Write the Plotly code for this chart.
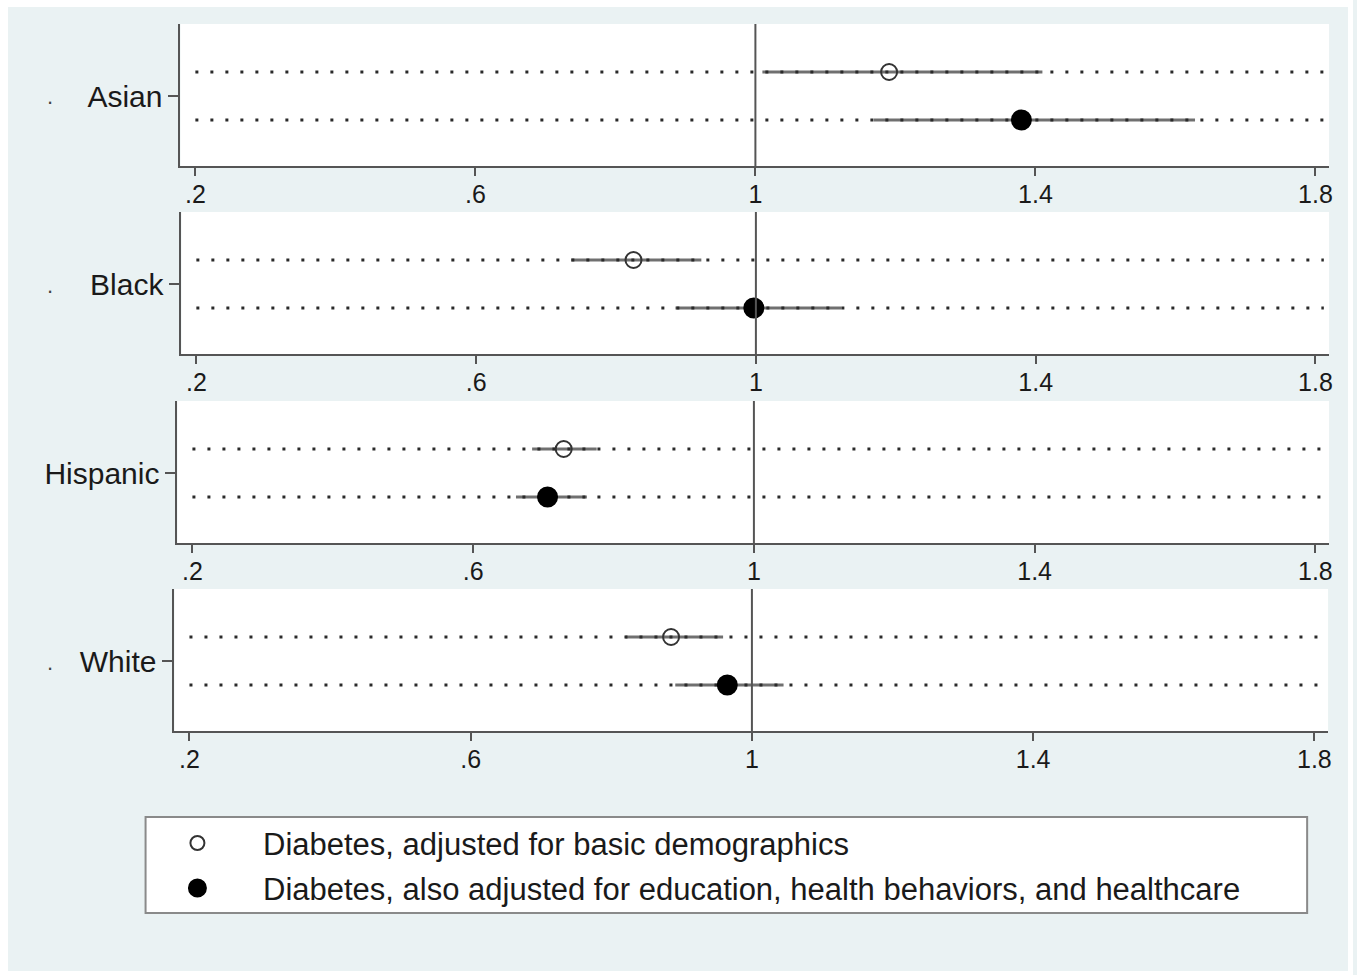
import plotly.graph_objects as go

# Odds ratios with 95% confidence intervals, by group
groups = ["Asian", "Black", "Hispanic", "White"]
basic_est = [1.191, 0.825, 0.729, 0.885]
basic_lo = [1.010, 0.736, 0.684, 0.820]
basic_hi = [1.410, 0.922, 0.776, 0.959]
full_est = [1.380, 0.997, 0.706, 0.965]
full_lo = [1.169, 0.885, 0.661, 0.891]
full_hi = [1.628, 1.122, 0.762, 1.045]

series_names = [
    "Diabetes, adjusted for basic demographics",
    "Diabetes, also adjusted for education, health behaviors, and healthcare",
]
tick_vals = [0.2, 0.6, 1.0, 1.4, 1.8]
tick_text = [".2", ".6", "1", "1.4", "1.8"]

W, H = 1357, 975
FONT = "Liberation Sans, Arial, sans-serif"
BG = "#eaf2f3"
AXIS = "#555555"


def px_x(v):
    return v / W


def px_y(v):
    return 1 - v / H


# panel boxes in pixels: (left, right, top, bottom)
panels = [
    (181, 1333, 24, 166),
    (182, 1333, 212, 354),
    (178, 1333, 401, 543),
    (175, 1332, 589, 731),
]
x_range = [0.1787, 1.8195]
y_range = [2.958, 0]

fig = go.Figure()
layout = dict(
    width=W, height=H,
    margin=dict(l=0, r=0, t=0, b=0),
    paper_bgcolor=BG, plot_bgcolor="white",
    showlegend=False,
    font=dict(family=FONT, color="#1a1a1a"),
)
shapes = []
annotations = []

for i, g in enumerate(groups):
    n = i + 1
    xa = "x" if n == 1 else f"x{n}"
    ya = "y" if n == 1 else f"y{n}"
    l, r, t, b = panels[i]
    layout["xaxis" if n == 1 else f"xaxis{n}"] = dict(
        domain=[px_x(l), px_x(r)], range=x_range, anchor=ya,
        showline=True, linecolor=AXIS, linewidth=2, mirror=False,
        showgrid=False, zeroline=False,
        ticks="outside", ticklen=8, tickwidth=2, tickcolor=AXIS,
        tickvals=tick_vals, ticktext=tick_text,
        tickfont=dict(size=25, family=FONT, color="#1a1a1a"),
        ticklabelstandoff=-3,
    )
    layout["yaxis" if n == 1 else f"yaxis{n}"] = dict(
        domain=[px_y(b), px_y(t)], range=y_range, anchor=xa,
        showline=True, linecolor=AXIS, linewidth=2, mirror=False,
        showgrid=False, zeroline=False,
        ticks="outside", ticklen=10, tickwidth=2, tickcolor=AXIS,
        tickvals=[1.5], ticktext=[g],
        tickfont=dict(size=30, family=FONT, color="#1a1a1a"),
    )

    rows = [
        (1, basic_est[i], basic_lo[i], basic_hi[i], "circle-open", 16, "#333333"),
        (2, full_est[i], full_lo[i], full_hi[i], "circle", 19, "#000000"),
    ]
    for yrow, est, lo, hi, sym, size, col in rows:
        # confidence interval
        fig.add_trace(go.Scatter(
            x=[lo, hi], y=[yrow, yrow], xaxis=xa, yaxis=ya, mode="lines",
            line=dict(color="#707070", width=3), hoverinfo="skip"))
        # dotted row guide
        fig.add_trace(go.Scatter(
            x=[0.2, 1.812], y=[yrow, yrow], xaxis=xa, yaxis=ya, mode="lines",
            line=dict(color="#2a2a2a", width=3, dash="3px,12px"), hoverinfo="skip"))
    # reference line at 1
    shapes.append(dict(type="line", xref=xa, yref=f"{ya} domain", x0=1, x1=1, y0=0, y1=1,
                       line=dict(color=AXIS, width=2), layer="above"))
    for yrow, est, lo, hi, sym, size, col in rows:
        fig.add_trace(go.Scatter(
            x=[est], y=[yrow], xaxis=xa, yaxis=ya, mode="markers",
            marker=dict(symbol=sym, size=size, color=col,
                        line=dict(color=col, width=2)),
            name=series_names[yrow - 1]))

    if g != "Hispanic":
        annotations.append(dict(
            text=".", xref="paper", yref="paper",
            x=px_x(50), y=px_y((t + b) / 2 + 2), showarrow=False,
            font=dict(size=22, family=FONT, color="#444444"),
            xanchor="center", yanchor="middle"))

# legend box
lg_l, lg_r, lg_t, lg_b = 146, 1311, 817, 913
shapes.append(dict(type="rect", xref="paper", yref="paper",
                   x0=px_x(lg_l), x1=px_x(lg_r), y0=px_y(lg_b), y1=px_y(lg_t),
                   fillcolor="white", line=dict(color="#8a8a8a", width=2), layer="below"))
layout["xaxis5"] = dict(domain=[px_x(lg_l), px_x(lg_r)], range=[lg_l, lg_r],
                        visible=False, anchor="y5", fixedrange=True)
layout["yaxis5"] = dict(domain=[px_y(lg_b), px_y(lg_t)], range=[lg_b, lg_t],
                        visible=False, anchor="x5", fixedrange=True)
legend_rows = [(843, "circle-open", 14, "#333333"), (888, "circle", 17, "#000000")]
for k, (yy, sym, size, col) in enumerate(legend_rows):
    fig.add_trace(go.Scatter(
        x=[198], y=[yy], xaxis="x5", yaxis="y5", mode="markers",
        marker=dict(symbol=sym, size=size, color=col, line=dict(color=col, width=2)),
        hoverinfo="skip"))
    annotations.append(dict(
        text=series_names[k], xref="paper", yref="paper",
        x=px_x(262), y=px_y(yy + 1), showarrow=False,
        xanchor="left", yanchor="middle",
        font=dict(size=31, family=FONT, color="#1a1a1a")))

# white frame around the graph region
for x0, x1, y0, y1 in [(0, 8, 0, H), (1352, W, 0, H), (0, W, 0, 7), (0, W, 971, H)]:
    shapes.append(dict(type="rect", xref="paper", yref="paper",
                       x0=px_x(x0), x1=px_x(x1), y0=px_y(y1), y1=px_y(y0),
                       fillcolor="white", line=dict(width=0), layer="above"))

layout["shapes"] = shapes
layout["annotations"] = annotations
fig.update_layout(**layout)
fig.write_html("out.html")
